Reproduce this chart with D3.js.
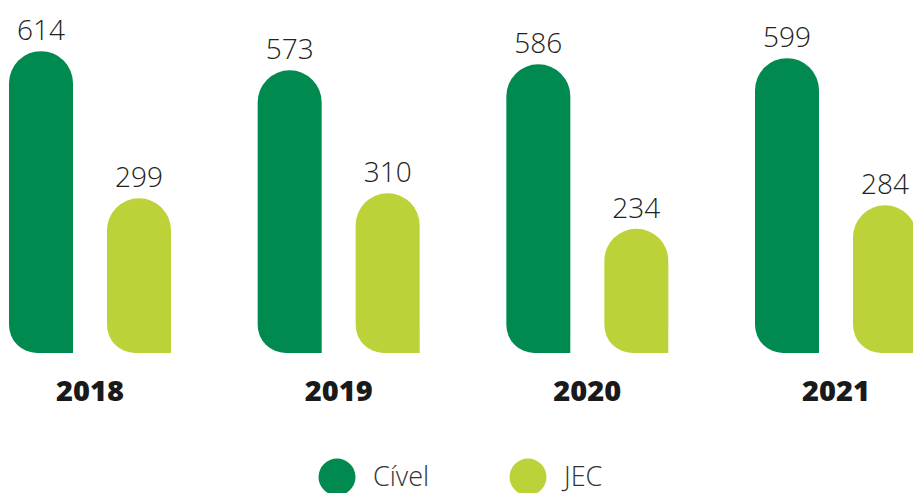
<!DOCTYPE html>
<html>
<head>
<meta charset="utf-8">
<script src="https://cdn.jsdelivr.net/npm/d3@7"></script>
<style>
  body { margin: 0; background: #fff; }
  svg { display: block; font-family: "Open Sans", "Noto Sans", sans-serif; }
</style>
</head>
<body>
<svg id="chart" width="913" height="493"></svg>
<script>
// data
const years = ['2018', '2019', '2020', '2021'];
const series = ['Cível', 'JEC'];
const civel = [614, 573, 586, 599];
const jec = [299, 310, 234, 284];
const colors = ['#008a4f', '#bdd239'];

const svg = d3.select('#chart');
const baseline = 353;

// the original bars are not quite to scale, this domain is a best fit
const y = d3.scaleLinear().domain([-32, 700]).range([baseline, 11]);

const x0 = d3.scaleBand().domain(years).range([9, 917]).paddingInner(0.3486).paddingOuter(0);
const x1 = d3.scaleBand().domain(series).range([0, x0.bandwidth()]).paddingInner(0.347).paddingOuter(0);

const rows = years.map((yr, i) => ({ year: yr, values: [civel[i], jec[i]] }));

// pill top, rounded bottom-left corner, square bottom-right
function barPath(x, top, w, bottom) {
  const r = w / 2, rb = 28;
  return 'M' + x + ',' + (top + r) +
    'A' + r + ',' + r + ' 0 0 1 ' + (x + w) + ',' + (top + r) +
    'L' + (x + w) + ',' + bottom +
    'L' + (x + rb) + ',' + bottom +
    'A' + rb + ',' + rb + ' 0 0 1 ' + x + ',' + (bottom - rb) + 'Z';
}

const groups = svg.selectAll('g.year').data(rows).enter().append('g')
  .attr('class', 'year')
  .attr('transform', d => 'translate(' + x0(d.year) + ',0)');

const bars = groups.selectAll('g.bar')
  .data(d => d.values.map((v, j) => ({ key: series[j], value: v, idx: j })))
  .enter().append('g').attr('class', 'bar');

bars.append('path')
  .attr('d', d => barPath(x1(d.key), y(d.value), x1.bandwidth(), baseline))
  .attr('fill', d => colors[d.idx]);

bars.append('text')
  .attr('x', d => x1(d.key) + x1.bandwidth() / 2)
  .attr('y', d => y(d.value) - 11)
  .attr('text-anchor', 'middle')
  .attr('font-size', 28)
  .attr('font-weight', 300)
  .attr('fill', '#222')
  .text(d => d.value);

groups.append('text')
  .attr('x', x0.bandwidth() / 2)
  .attr('y', 401)
  .attr('text-anchor', 'middle')
  .attr('font-size', 29)
  .attr('font-weight', 800)
  .attr('fill', '#1a1a1a')
  .text(d => d.year);

// legend
const legendX = [337, 528];
const legend = svg.selectAll('g.legend').data(series).enter().append('g')
  .attr('class', 'legend')
  .attr('transform', (d, i) => 'translate(' + legendX[i] + ',477)');

legend.append('circle').attr('r', 18.5).attr('fill', (d, i) => colors[i]);
legend.append('text')
  .attr('x', 36)
  .attr('y', 9)
  .attr('font-size', 27)
  .attr('font-weight', 300)
  .attr('fill', '#333')
  .text(d => d);
</script>
</body>
</html>
